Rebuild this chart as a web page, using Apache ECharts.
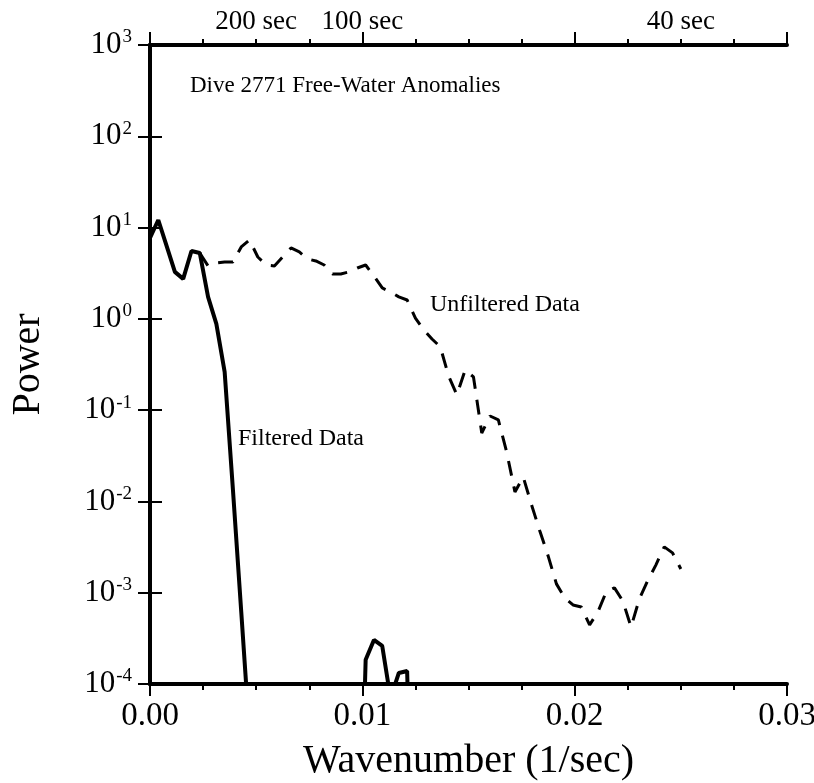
<!DOCTYPE html>
<html><head><meta charset="utf-8">
<script src="https://cdn.jsdelivr.net/npm/echarts@6/dist/echarts.min.js"></script>
<style>html,body{margin:0;padding:0;background:#fff}#c{width:814px;height:783px}</style>
</head><body><div id="c"></div>
<script>
// Wavenumber grid step (1/sec); samples are at i * wavenumberStep
const wavenumberStep = 1 / 2560;

// Filtered data power, samples i = 0..32 (values far below 1e-4 fall off the plot)
const filteredPower = [
  7.7, 12.1, 6.3, 3.27, 2.74, 5.54, 5.27, 1.74, 0.88, 0.262,
  0.0134, 6.2e-4, 2.8e-5, 1e-7, 1e-7, 1e-7, 1e-7, 1e-7, 1e-7, 1e-7,
  1e-7, 1e-7, 1e-7, 1e-7, 1e-7, 1e-7, 1.84e-4, 3.04e-4, 2.61e-4, 7e-5,
  1.32e-4, 1.39e-4, 1e-7
];

// Unfiltered data power, samples i = 6..64
const unfilteredStart = 6;
const unfilteredPower = [
  5.27, 3.80, 4.10, 4.20, 4.20, 6.13, 7.31, 4.76, 3.89, 3.80,
  4.76, 5.98, 5.41, 4.53, 4.31, 3.89, 3.10, 3.10, 3.27, 3.61,
  3.89, 2.95, 2.18, 1.97, 1.74, 1.61, 1.02, 0.755, 0.602, 0.493,
  0.237, 0.147, 0.275, 0.231, 0.0562, 0.0863, 0.0781, 0.0348, 0.0127, 0.0185,
  0.00916, 0.00475, 0.00253, 0.00125, 8.75e-4, 7.34e-4, 6.98e-4, 4.44e-4, 6.15e-4, 1.02e-3,
  1.13e-3, 8.13e-4, 4.22e-4, 8.55e-4, 1.35e-3, 2.02e-3, 3.18e-3, 2.73e-3, 1.82e-3
];

// Top axis period labels, keyed by wavenumber
const periodTicks = [0.005, 0.01, 0.025];
const periodLabels = ['200 sec', '100 sec', '40 sec'];

const xTickLabels = ['0.00', '0.01', '0.02', '0.03'];

const serif = '"Liberation Serif", "Times New Roman", serif';

const filteredData = filteredPower.map((p, i) => [i * wavenumberStep, p]);
const unfilteredData = unfilteredPower.map((p, i) => [(i + unfilteredStart) * wavenumberStep, p]);

const chart = echarts.init(document.getElementById('c'), null, {renderer: 'canvas'});
const black = '#000';

chart.setOption({
  animation: false,
  backgroundColor: '#fff',
  grid: {left: 150, top: 45, width: 637, height: 639, containLabel: false, outerBoundsMode: 'none'},
  xAxis: [
    {
      type: 'value', position: 'bottom', min: 0, max: 0.03, interval: 0.01,
      axisLine: {show: true, lineStyle: {color: black, width: 4}},
      axisTick: {show: true, inside: false, length: 12, lineStyle: {color: black, width: 2}},
      minorTick: {show: true, splitNumber: 4, length: 6, lineStyle: {color: black, width: 2}},
      splitLine: {show: false}, minorSplitLine: {show: false},
      axisLabel: {
        margin: 16, color: black, fontSize: 33, fontFamily: serif,
        formatter: v => xTickLabels[Math.round(v * 100)] || ''
      },
      name: 'Wavenumber (1/sec)', nameLocation: 'middle', nameGap: 57,
      nameTextStyle: {color: black, fontSize: 40, fontFamily: serif}
    },
    {
      type: 'value', position: 'top', min: 0, max: 0.03, interval: 0.0025,
      axisLine: {show: true, lineStyle: {color: black, width: 4}},
      axisTick: {show: true, inside: false, length: 6, lineStyle: {color: black, width: 2}},
      splitLine: {show: false},
      axisLabel: {
        margin: 10, color: black, fontSize: 27, fontFamily: serif,
        formatter: v => {
          const k = periodTicks.findIndex(t => Math.abs(t - v) < 1e-7);
          return k >= 0 ? periodLabels[k] : '';
        }
      }
    },
    {
      type: 'value', position: 'top', min: 0, max: 0.03, interval: 0.01,
      axisLine: {show: false},
      axisTick: {show: true, inside: false, length: 13, lineStyle: {color: black, width: 2}},
      splitLine: {show: false}, axisLabel: {show: false}
    }
  ],
  yAxis: [
    {
      type: 'log', logBase: 10, position: 'left', min: 1e-4, max: 1e3, splitNumber: 7,
      axisLine: {show: true, lineStyle: {color: black, width: 4}},
      axisTick: {show: true, inside: false, length: 12, lineStyle: {color: black, width: 2}},
      splitLine: {show: false},
      axisLabel: {
        margin: 18, color: black, fontFamily: serif,
        formatter: v => '{b|10}{s|' + Math.round(Math.log10(v)) + '}',
        rich: {
          b: {fontSize: 31, fontFamily: serif, color: black, lineHeight: 34},
          s: {fontSize: 19, fontFamily: serif, color: black, verticalAlign: 'top', lineHeight: 34, padding: [0, 0, 0, 1]}
        }
      },
      name: 'Power', nameLocation: 'middle', nameGap: 102, nameRotate: 90,
      nameTextStyle: {color: black, fontSize: 40, fontFamily: serif}
    },
    {
      type: 'log', logBase: 10, position: 'right', min: 1e-4, max: 1e3, splitNumber: 7,
      axisLine: {show: true, lineStyle: {color: black, width: 4}},
      axisTick: {show: true, inside: false, length: 12, lineStyle: {color: black, width: 2}},
      splitLine: {show: false}, axisLabel: {show: false}
    }
  ],
  graphic: [
    {type: 'text', left: 190, top: 74, style: {text: 'Dive 2771 Free-Water Anomalies', font: '23px ' + serif, fill: black}},
    {type: 'text', left: 430, top: 293, style: {text: 'Unfiltered Data', font: '24px ' + serif, fill: black}},
    {type: 'text', left: 238, top: 427, style: {text: 'Filtered Data', font: '24px ' + serif, fill: black}}
  ],
  series: [
    {
      type: 'line', xAxisIndex: 0, yAxisIndex: 0, data: unfilteredData, symbol: 'none',
      lineStyle: {color: black, width: 3, type: [15, 11]}, clip: true, z: 2
    },
    {
      type: 'line', xAxisIndex: 0, yAxisIndex: 0, data: filteredData, symbol: 'none',
      lineStyle: {color: black, width: 4}, clip: true, z: 3
    }
  ]
});
</script>
</body></html>
